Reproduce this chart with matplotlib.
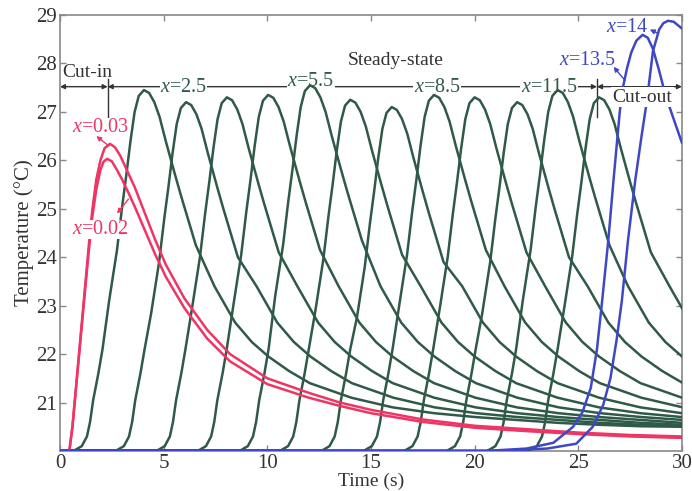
import matplotlib.pyplot as plt

plt.rcParams['font.family'] = ['Liberation Serif', 'DejaVu Serif']
plt.rcParams['mathtext.fontset'] = 'custom'
plt.rcParams['mathtext.rm'] = 'Liberation Serif'
plt.rcParams['mathtext.it'] = 'Liberation Serif:italic'

GREEN = '#2f5a47'
RED = '#ee3563'
BLUE = '#3f48c4'
INK = '#333333'

# cut-in sensors (x = 0.03 and x = 0.02)
red_03_t = [0, 0.45, 0.6, 1.0, 1.37, 1.55, 1.75, 1.95, 2.15, 2.41, 2.65, 2.9, 3.2, 3.6, 4.1,
            4.6, 5.1, 6.0, 7.1, 8.2, 10, 12, 13.5, 15, 17.5, 20, 22.5, 25, 27.5, 30]
red_03_T = [20, 20, 20.5, 22.4, 24.15, 24.95, 25.6, 26.0, 26.25, 26.34, 26.27, 26.1, 25.82, 25.45, 24.9,
            24.35, 23.85, 23.15, 22.5, 22.0, 21.5, 21.2, 21.0, 20.85, 20.65, 20.52, 20.45, 20.38, 20.33, 20.3]
red_02_t = [0, 0.45, 0.6, 1.0, 1.37, 1.55, 1.75, 1.95, 2.1, 2.27, 2.5, 2.75, 3.0, 3.3, 3.6, 4.1,
            4.6, 5.1, 6.0, 7.1, 8.2, 10, 12, 13.5, 15, 17.5, 20, 22.5, 25, 27.5, 30]
red_02_T = [20, 20, 20.5, 22.35, 24.05, 24.8, 25.4, 25.8, 25.97, 26.03, 25.98, 25.8, 25.6, 25.33, 25.05, 24.55,
            24.05, 23.6, 22.95, 22.32, 21.85, 21.38, 21.1, 20.93, 20.78, 20.6, 20.48, 20.41, 20.35, 20.3, 20.27]

# steady-state sensors: time of each peak, offsets around the peak
green_peak_t = [4.05, 6.08, 8.05, 10.04, 12.06, 14.0, 16.0, 18.04, 20.0, 22.05, 24.0, 26.0]
green_dt = [-3.4, -3.0, -2.75, -2.6, -2.45, -2.2, -2.0,
            -1.68, -1.3, -1.05, -0.85, -0.65, -0.45, -0.25, 0.0, 0.25, 0.5, 0.75, 1.05, 1.5, 1.8, 2.5,
            3.4, 4.4, 5.2, 6.0, 7.0, 8.0, 10, 12, 14, 16, 18, 20, 22, 24, 26]
green_foot = [20.0, 20.1, 20.3, 20.6, 21.05, 21.6, 22.1]
green_crest = [
    [23.10, 24.15, 25.05, 25.70, 26.40, 27.00, 27.33, 27.45, 27.39, 27.20, 26.90, 26.40, 25.70, 25.25, 24.25],
    [22.85, 23.90, 24.80, 25.45, 26.15, 26.75, 27.08, 27.20, 27.14, 26.95, 26.65, 26.15, 25.45, 25.00, 24.00],
    [22.95, 24.00, 24.90, 25.55, 26.25, 26.85, 27.18, 27.30, 27.24, 27.05, 26.75, 26.25, 25.55, 25.10, 24.10],
    [23.00, 24.05, 24.95, 25.60, 26.30, 26.90, 27.23, 27.35, 27.29, 27.10, 26.80, 26.30, 25.60, 25.15, 24.15],
    [23.20, 24.25, 25.15, 25.80, 26.50, 27.10, 27.43, 27.55, 27.49, 27.30, 27.00, 26.50, 25.80, 25.35, 24.35],
    [22.90, 23.95, 24.85, 25.50, 26.20, 26.80, 27.13, 27.25, 27.19, 27.00, 26.70, 26.20, 25.50, 25.05, 24.05],
    [22.75, 23.80, 24.70, 25.35, 26.05, 26.65, 26.98, 27.10, 27.04, 26.85, 26.55, 26.05, 25.35, 24.90, 23.90],
    [23.00, 24.05, 24.95, 25.60, 26.30, 26.90, 27.23, 27.35, 27.29, 27.10, 26.80, 26.30, 25.60, 25.15, 24.15],
    [22.95, 24.00, 24.90, 25.55, 26.25, 26.85, 27.18, 27.30, 27.24, 27.05, 26.75, 26.25, 25.55, 25.10, 24.10],
    [22.85, 23.90, 24.80, 25.45, 26.15, 26.75, 27.08, 27.20, 27.14, 26.95, 26.65, 26.15, 25.45, 25.00, 24.00],
    [23.10, 24.15, 25.05, 25.70, 26.40, 27.00, 27.33, 27.45, 27.39, 27.20, 26.90, 26.40, 25.70, 25.25, 24.25],
    [22.95, 24.00, 24.90, 25.55, 26.25, 26.85, 27.18, 27.30, 27.24, 27.05, 26.75, 26.25, 25.55, 25.10, 24.10],
]
green_tail = [23.4, 22.65, 22.25, 21.95, 21.65, 21.4, 21.1, 20.9, 20.78, 20.7, 20.64, 20.58, 20.54, 20.51, 20.5]

# cut-out sensors (x = 13.5 and x = 14)
blue_135_t = [0, 20.5, 22.5, 23.8, 24.75, 25.2, 25.6, 25.9, 26.15, 26.45, 26.7, 27.0, 27.15, 27.35,
              27.55, 27.8, 28.1, 28.35, 28.6, 28.9, 29.2, 29.6, 30.0]
blue_135_T = [20, 20, 20.05, 20.17, 20.5, 20.8, 21.3, 22.1, 23.1, 24.36, 25.6, 27.0, 27.5, 27.9,
              28.22, 28.47, 28.59, 28.53, 28.3, 27.85, 27.35, 26.85, 26.36]
blue_14_t = [0, 21, 23.5, 24.9, 25.7, 26.2, 26.55, 26.85, 27.1, 27.4, 27.75, 28.05, 28.3, 28.6,
             28.9, 29.1, 29.33, 29.6, 30.0]
blue_14_T = [20, 20, 20.05, 20.15, 20.5, 20.95, 21.5, 22.3, 23.1, 24.36, 25.6, 26.5, 27.2, 28.25,
             28.7, 28.83, 28.88, 28.86, 28.72]

fig = plt.figure(figsize=(6.92, 4.91), dpi=100)
ax = fig.add_axes([0.0867, 0.0815, 0.8988, 0.888])

lw = 1.8
line_kw = dict(lw=lw, solid_joinstyle='round', solid_capstyle='round')
for peak, crest in zip(green_peak_t, green_crest):
    t = [0] + [peak + d for d in green_dt]
    T = [20.0] + green_foot + crest + green_tail
    ax.plot(t, T, color=GREEN, zorder=3, **line_kw)

ax.plot(red_02_t, red_02_T, color=RED, zorder=4, **line_kw)
ax.plot(red_03_t, red_03_T, color=RED, zorder=4, **line_kw)
ax.plot(blue_135_t, blue_135_T, color=BLUE, zorder=4, **line_kw)
ax.plot(blue_14_t, blue_14_T, color=BLUE, zorder=4, **line_kw)

# phase markers along the top
y_bar = 27.52
arrow_kw = dict(arrowstyle='<|-|>', color=INK, lw=1.0, mutation_scale=7, shrinkA=0, shrinkB=0)
for a, b in [(0, 2.3), (2.3, 25.9), (25.9, 30)]:
    ax.annotate('', xy=(b, y_bar), xytext=(a, y_bar), arrowprops=arrow_kw, zorder=2)
for tm in [2.3, 25.9]:
    ax.plot([tm, tm], [26.9, 27.68], color=INK, lw=1.0, zorder=2)

ax.text(0.1, 27.82, 'Cut-in', ha='left', va='center', color=INK, fontsize=14)
ax.text(16.2, 28.07, 'Steady-state', ha='center', va='center', color=INK, fontsize=14)
ax.text(28.1, 27.3, 'Cut-out', ha='center', va='center', color=INK, fontsize=14, zorder=6,
        bbox=dict(facecolor='white', edgecolor='none', pad=1.0))

white = dict(facecolor='white', edgecolor='none', pad=0.3)
for tx, ty, s in [(5.95, 27.5, '2.5'), (12.1, 27.62, '5.5'), (18.2, 27.5, '8.5'), (23.6, 27.5, '11.5')]:
    ax.text(tx, ty, r'$x$=' + s, ha='center', va='center', color=GREEN, fontsize=14.5,
            bbox=white, zorder=2.5)

ax.text(1.95, 26.67, r'$x$=0.03', ha='center', va='center', color=RED, fontsize=14.5, bbox=white, zorder=6)
ax.text(1.95, 24.57, r'$x$=0.02', ha='center', va='center', color=RED, fontsize=14.5, bbox=white, zorder=6)
ax.text(25.45, 28.07, r'$x$=13.5', ha='center', va='center', color=BLUE, fontsize=14.5, zorder=6)
ax.text(27.35, 28.75, r'$x$=14', ha='center', va='center', color=BLUE, fontsize=14.5, zorder=6)

pointer = dict(arrowstyle='-|>', lw=1.0, mutation_scale=7, shrinkA=0, shrinkB=0)
ax.annotate('', xy=(1.75, 26.5), xytext=(2.35, 26.3), arrowprops=dict(pointer, color=RED), zorder=6)
ax.annotate('', xy=(2.75, 24.9), xytext=(3.3, 25.2), arrowprops=dict(pointer, color=RED), zorder=6)
ax.annotate('', xy=(26.7, 27.93), xytext=(27.25, 27.65), arrowprops=dict(pointer, color=BLUE), zorder=6)
ax.annotate('', xy=(28.45, 28.7), xytext=(28.85, 28.62), arrowprops=dict(pointer, color=BLUE), zorder=6)

ax.set_xlim(0, 30)
ax.set_ylim(20, 29)
ax.set_xticks(range(0, 31, 5))
ax.set_yticks(range(21, 30))
ax.tick_params(direction='in', length=4, width=1.0, color='#888888', labelcolor=INK,
               labelsize=15, top=True, right=True, pad=2)
for sp in ax.spines.values():
    sp.set_color('#888888')
    sp.set_linewidth(1.2)
ax.set_xlabel('Time (s)', fontsize=14, color=INK, labelpad=0)
ax.set_ylabel('Temperature (\u00b0C)', fontsize=15, color=INK, labelpad=2)

fig.savefig('out.png', dpi=100)
